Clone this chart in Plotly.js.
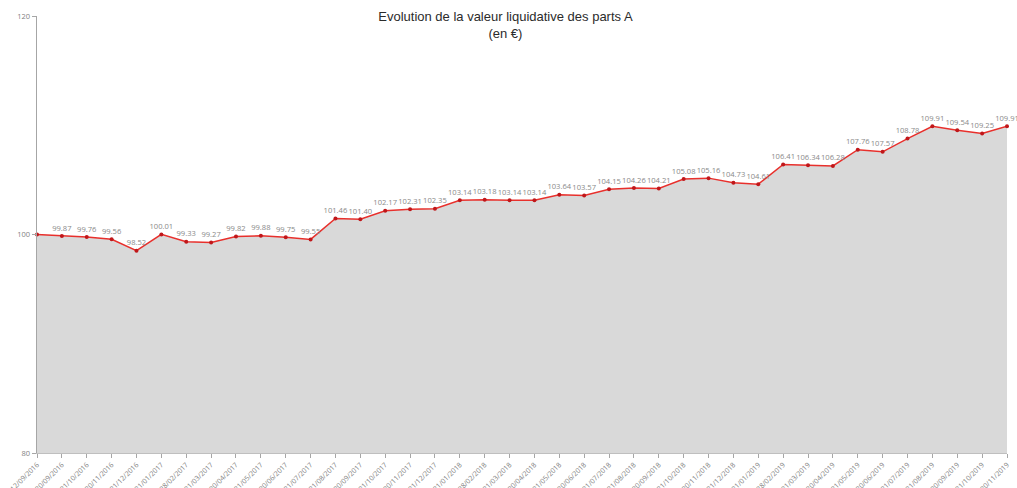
<!DOCTYPE html>
<html>
<head>
<meta charset="utf-8">
<script src="https://cdn.plot.ly/plotly-3.0.1.min.js"></script>
<style>html,body{margin:0;padding:0;background:#fff;}#chart{width:1017px;height:488px;}</style>
</head>
<body>
<div id="chart"></div>
<script>
const dates = ["12/09/2016","30/09/2016","31/10/2016","30/11/2016","31/12/2016","31/01/2017","28/02/2017","31/03/2017","30/04/2017","31/05/2017","30/06/2017","31/07/2017","31/08/2017","30/09/2017","31/10/2017","30/11/2017","31/12/2017","31/01/2018","28/02/2018","31/03/2018","30/04/2018","31/05/2018","30/06/2018","31/07/2018","31/08/2018","30/09/2018","31/10/2018","30/11/2018","31/12/2018","31/01/2019","28/02/2019","31/03/2019","30/04/2019","31/05/2019","30/06/2019","31/07/2019","31/08/2019","30/09/2019","31/10/2019","30/11/2019"];
const values = [100,99.87,99.76,99.56,98.52,100.01,99.33,99.27,99.82,99.88,99.75,99.55,101.46,101.40,102.17,102.31,102.35,103.14,103.18,103.14,103.14,103.64,103.57,104.15,104.26,104.21,105.08,105.16,104.73,104.61,106.41,106.34,106.28,107.76,107.57,108.78,109.91,109.54,109.25,109.91];
const labels = values.map((v, i) => i === 0 ? "" : v.toFixed(2));
const yTicks = [80, 100, 120];

const trace = {
  x: dates,
  y: values,
  type: "scatter",
  mode: "lines+markers+text",
  fill: "tozeroy",
  fillcolor: "#d9d9d9",
  line: {color: "#e8302c", width: 1.5},
  marker: {color: "#c0171a", size: 4},
  text: labels,
  textposition: "top center",
  textfont: {family: "Open Sans, Liberation Sans, sans-serif", size: 7.6, color: "#8a8a8a"},
  cliponaxis: false,
  hoverinfo: "x+y"
};

const layout = {
  width: 1017,
  height: 488,
  margin: {l: 37, r: 10, t: 16, b: 35},
  paper_bgcolor: "#ffffff",
  plot_bgcolor: "#ffffff",
  showlegend: false,
  title: {
    text: "Evolution de la valeur liquidative des parts A<br>(en €)",
    x: 0.497, xref: "container", xanchor: "center",
    y: 0.957, yref: "container", yanchor: "top",
    font: {family: "Liberation Sans, Arial, sans-serif", size: 13, color: "#2b2b2b"}
  },
  xaxis: {
    type: "category",
    range: [0, dates.length - 1],
    tickangle: -45,
    tickfont: {family: "Open Sans, Liberation Sans, sans-serif", size: 7, color: "#7f7f7f"},
    ticks: "outside", ticklen: 4, tickcolor: "#a6a6a6",
    showline: true, linecolor: "#bfbfbf", linewidth: 1,
    showgrid: false, zeroline: false, automargin: false
  },
  yaxis: {
    range: [80, 120],
    tickvals: yTicks,
    ticktext: yTicks.map(String),
    tickfont: {family: "Open Sans, Liberation Sans, sans-serif", size: 7.5, color: "#7f7f7f"},
    ticks: "outside", ticklen: 4, tickcolor: "#a6a6a6",
    showline: true, linecolor: "#a6a6a6", linewidth: 1.5,
    showgrid: false, zeroline: false, automargin: false
  }
};

Plotly.newPlot("chart", [trace], layout, {displayModeBar: false, staticPlot: true});
</script>
</body>
</html>
